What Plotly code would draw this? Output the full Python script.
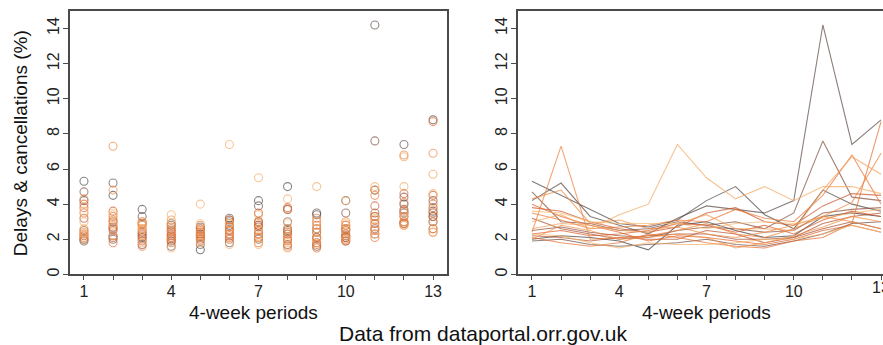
import plotly.graph_objects as go

periods = list(range(1, 14))
x_tick_vals = list(range(1, 14))
x_tick_text = ["1", "", "", "4", "", "", "7", "", "", "10", "", "", "13"]
x2_tick_text = ["1", "", "", "4", "", "", "7", "", "", "10", "", "", ""]
y_tick_vals = [0, 2, 4, 6, 8, 10, 12, 14]

# delays & cancellations (%) per operator, for 4-week periods 1..13
s0 = [2.0, 2.2, 2.1, 1.9, 1.4, 2.8, 3.0, 2.5, 2.1, 2.2, 3.3, 3.5, 3.3]
s1 = [5.3, 4.5, 3.7, 2.9, 2.7, 3.1, 4.2, 5.0, 3.4, 2.6, 4.8, 4.0, 3.6]
s2 = [4.2, 5.2, 3.3, 2.8, 2.3, 3.2, 3.9, 3.7, 3.5, 4.2, 14.2, 7.4, 8.8]
s3 = [1.9, 2.0, 1.7, 1.6, 1.7, 1.8, 2.0, 1.7, 1.6, 1.9, 2.3, 2.9, 3.0]
s4 = [4.7, 3.0, 2.9, 2.5, 2.6, 3.0, 2.8, 3.0, 2.6, 3.5, 7.6, 4.4, 4.2]
s5 = [2.5, 2.7, 2.4, 2.2, 2.1, 2.5, 2.7, 2.6, 2.4, 2.5, 3.5, 3.7, 3.8]
s6 = [3.2, 2.6, 2.3, 2.0, 2.2, 2.3, 2.3, 2.0, 2.0, 2.1, 2.6, 3.0, 2.6]
s7 = [2.2, 2.1, 1.9, 2.1, 2.0, 2.0, 2.5, 2.3, 1.8, 2.1, 2.9, 3.3, 3.5]
s8 = [3.8, 3.6, 3.0, 2.6, 2.4, 2.7, 3.5, 3.8, 3.0, 2.8, 3.9, 4.6, 4.5]
s9 = [2.3, 2.5, 2.2, 2.3, 2.5, 2.9, 2.8, 2.4, 2.8, 2.3, 3.1, 3.6, 3.3]
s10 = [4.0, 3.3, 2.8, 2.4, 1.9, 2.2, 2.1, 1.9, 1.7, 2.0, 2.5, 2.8, 2.4]
s11 = [2.1, 1.8, 1.6, 1.8, 2.3, 2.1, 1.8, 1.6, 1.5, 1.9, 2.1, 2.9, 8.7]
s12 = [3.5, 3.1, 2.6, 2.7, 2.8, 3.1, 3.0, 3.7, 3.2, 3.0, 4.5, 6.8, 4.0]
s13 = [2.4, 7.3, 2.0, 2.1, 2.2, 2.5, 2.9, 2.3, 2.1, 2.6, 3.3, 4.1, 6.9]
s14 = [4.3, 4.8, 2.9, 3.1, 2.6, 2.7, 2.3, 2.1, 2.4, 2.8, 3.3, 3.0, 2.6]
s15 = [2.0, 2.8, 2.5, 2.0, 2.1, 2.3, 2.1, 1.5, 1.8, 2.2, 2.7, 3.3, 3.0]
s16 = [2.6, 2.9, 2.8, 2.5, 2.4, 2.9, 3.4, 2.6, 2.6, 2.5, 4.8, 6.7, 5.7]
s17 = [3.0, 3.4, 2.6, 3.4, 4.0, 7.4, 5.5, 4.3, 5.0, 4.2, 5.0, 5.0, 4.6]
s18 = [2.3, 2.2, 1.8, 1.5, 1.8, 1.7, 1.7, 1.8, 2.0, 2.0, 2.3, 2.8, 2.4]
s19 = [3.6, 3.5, 3.0, 2.9, 2.9, 2.9, 2.6, 2.9, 3.0, 2.9, 3.2, 3.5, 3.7]

series = [s0, s1, s2, s3, s4, s5, s6, s7, s8, s9,
          s10, s11, s12, s13, s14, s15, s16, s17, s18, s19]

palette = ["#3a3a3a", "#4a4442", "#5c4a44", "#6c4c42", "#7e4c3e",
           "#904c38", "#a44e32", "#b8502c", "#cc5428", "#da5a26",
           "#e26228", "#e86c2e", "#ec7634", "#ef803a", "#f18a42",
           "#f3944a", "#f49e54", "#f5a85e", "#f6b268", "#f7bc74"]

FONT = "Liberation Sans, Arial, Helvetica, sans-serif"
W, H = 883, 345
L1, R1 = 70, 447
L2, R2 = 518, 883
TOP, BOT = 11, 276

fig = go.Figure()
for vals, col in zip(series, palette):
    fig.add_trace(go.Scatter(
        x=periods, y=vals, mode="markers", xaxis="x", yaxis="y",
        marker=dict(symbol="circle-open", size=8, color=col, opacity=0.65,
                    line=dict(width=1.1, color=col)),
        showlegend=False, hoverinfo="skip"))
for vals, col in zip(series, palette):
    fig.add_trace(go.Scatter(
        x=periods, y=vals, mode="lines", xaxis="x2", yaxis="y2",
        line=dict(color=col, width=1.1), opacity=0.7,
        showlegend=False, hoverinfo="skip"))

px_unit = (R1 - L1) / (13.48 - 0.52)
x2_max = 0.52 + (R2 - L2) / px_unit

line_style = dict(showline=True, linecolor="#4a4a4a", linewidth=1.6,
                  ticks="outside", tickcolor="#4a4a4a", tickwidth=1,
                  showgrid=False, zeroline=False,
                  tickfont=dict(family=FONT, size=16, color="#222222"))
ydom = [(H - BOT) / H, (H - TOP) / H]

fig.update_layout(
    width=W, height=H, margin=dict(l=0, r=0, t=0, b=0),
    paper_bgcolor="white", plot_bgcolor="white",
    xaxis=dict(domain=[L1 / W, R1 / W], range=[0.52, 13.48], anchor="y",
               tickvals=x_tick_vals, ticktext=x_tick_text, mirror=True,
               ticklen=4, ticklabelstandoff=-2, **line_style),
    yaxis=dict(domain=ydom, range=[0, 15], anchor="x", tickvals=y_tick_vals,
               tickangle=-90, mirror=True, ticklen=5, ticklabelstandoff=-2, **line_style),
    xaxis2=dict(domain=[L2 / W, 1.0], range=[0.52, x2_max], anchor="y2",
                tickvals=x_tick_vals, ticktext=x2_tick_text, mirror=True,
                ticklen=4, ticklabelstandoff=-2, **line_style),
    yaxis2=dict(domain=ydom, range=[0, 15], anchor="x2", tickvals=y_tick_vals,
                tickangle=-90, mirror=False, ticklen=5, ticklabelstandoff=-2, **line_style),
    font=dict(family=FONT, color="#111111"),
)

# last tick label of the right panel, cut by the page edge as in the original
fig.add_annotation(text="13", xref="x2", yref="paper", x=13, y=(H - 289) / H,
                   showarrow=False, xanchor="center", yanchor="middle",
                   font=dict(family=FONT, size=16, color="#222222"))

ann_font = dict(family=FONT, size=19, color="#111111")
fig.add_annotation(text="Delays & cancellations (%)", xref="paper", yref="paper",
                   x=20 / W, y=(H - 144) / H, textangle=-90, showarrow=False,
                   xanchor="center", yanchor="middle", font=ann_font)
fig.add_annotation(text="4-week periods", xref="paper", yref="paper",
                   x=254 / W, y=(H - 314) / H, showarrow=False,
                   xanchor="center", yanchor="middle", font=ann_font)
fig.add_annotation(text="4-week periods", xref="paper", yref="paper",
                   x=706 / W, y=(H - 314) / H, showarrow=False,
                   xanchor="center", yanchor="middle", font=ann_font)
fig.add_annotation(text="Data from dataportal.orr.gov.uk", xref="paper", yref="paper",
                   x=482.5 / W, y=(H - 335) / H, showarrow=False,
                   xanchor="center", yanchor="middle",
                   font=dict(family=FONT, size=21, color="#111111"))

fig.write_html("out.html")
